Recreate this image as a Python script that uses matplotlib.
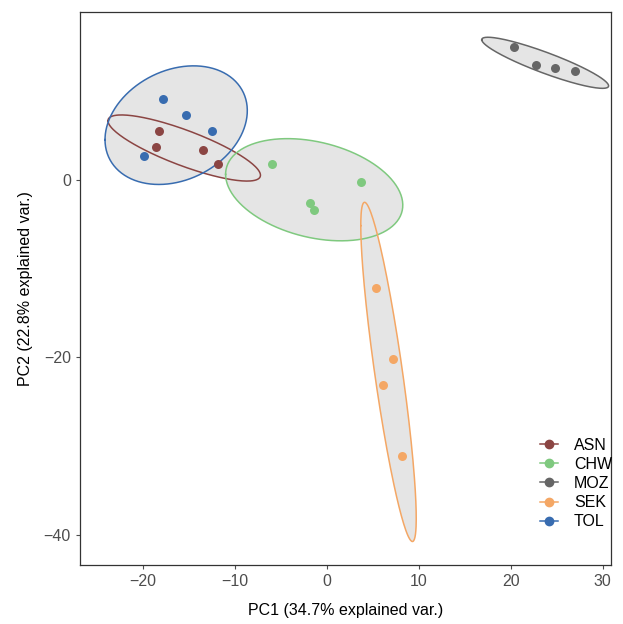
import numpy as np
import matplotlib
matplotlib.use("Agg")
import matplotlib.pyplot as plt
from matplotlib.lines import Line2D

plt.rcParams['font.family'] = ['Liberation Sans', 'DejaVu Sans']

# --- PCA scores ---
groups = ['ASN', 'CHW', 'MOZ', 'SEK', 'TOL']
colors = ['#8B4543', '#7FC97F', '#666666', '#F4A765', '#386CB0']

pc1 = {
    'ASN': [-18.2, -18.5, -13.4, -11.8],
    'CHW': [-5.9, 3.7, -1.8, -1.4],
    'MOZ': [20.4, 22.8, 24.8, 27.0],
    'SEK': [5.4, 7.2, 6.1, 8.2],
    'TOL': [-17.8, -15.3, -12.5, -19.8],
}
pc2 = {
    'ASN': [5.5, 3.7, 3.3, 1.8],
    'CHW': [1.8, -0.3, -2.6, -3.4],
    'MOZ': [14.9, 12.9, 12.6, 12.3],
    'SEK': [-12.2, -20.2, -23.1, -31.1],
    'TOL': [9.1, 7.3, 5.5, 2.7],
}

x_ticks = [-20, -10, 0, 10, 20, 30]
y_ticks = [-40, -20, 0]

# --- ellipse like ggbiplot (ellipse.prob = 0.95) ---
def conf_ellipse(x, y, prob_radius=np.sqrt(5.991)):
    theta = np.linspace(-np.pi, np.pi, 200)
    circle = np.column_stack([np.cos(theta), np.sin(theta)])
    sigma = np.cov(np.vstack([x, y]))
    L = np.linalg.cholesky(sigma)
    pts = circle @ L.T * prob_radius
    return pts[:, 0] + np.mean(x), pts[:, 1] + np.mean(y)

fig = plt.figure(figsize=(6.23, 6.24), dpi=100)
ax = fig.add_axes([0.1284, 0.0946, 0.8523, 0.8862])

# fills first, outlines on top, points last
for g, c in zip(groups, colors):
    ex, ey = conf_ellipse(pc1[g], pc2[g])
    ax.fill(ex, ey, color='#E5E5E5', zorder=1, lw=0)
for g, c in zip(groups, colors):
    ex, ey = conf_ellipse(pc1[g], pc2[g])
    ax.plot(ex, ey, color=c, lw=1.1, zorder=2)
for g, c in zip(groups, colors):
    ax.scatter(pc1[g], pc2[g], s=42, color=c, zorder=3, linewidths=0)

ax.set_xlim(-26.8, 30.9)
ax.set_ylim(-43.4, 18.9)
ax.set_xticks(x_ticks)
ax.set_yticks(y_ticks)
ax.set_xticklabels(['\u2212' + str(-t) if t < 0 else str(t) for t in x_ticks])
ax.set_yticklabels(['\u2212' + str(-t) if t < 0 else str(t) for t in y_ticks])
ax.tick_params(colors='#4D4D4D', labelsize=11.5, length=3, width=0.8)
for s in ax.spines.values():
    s.set_color('#333333')
    s.set_linewidth(0.9)

ax.set_xlabel('PC1 (34.7% explained var.)', fontsize=11.5, labelpad=10)
ax.set_ylabel('PC2 (22.8% explained var.)', fontsize=11.5, labelpad=8)

handles = [Line2D([0], [0], color=c, marker='o', markersize=6, lw=1.1) for c in colors]
ax.legend(handles, groups, loc='lower left', bbox_to_anchor=(0.855, 0.053),
          borderaxespad=0, frameon=False, fontsize=11.5, handlelength=1.1,
          labelspacing=0.26, handletextpad=1.0)

fig.savefig('out.png', dpi=100)
